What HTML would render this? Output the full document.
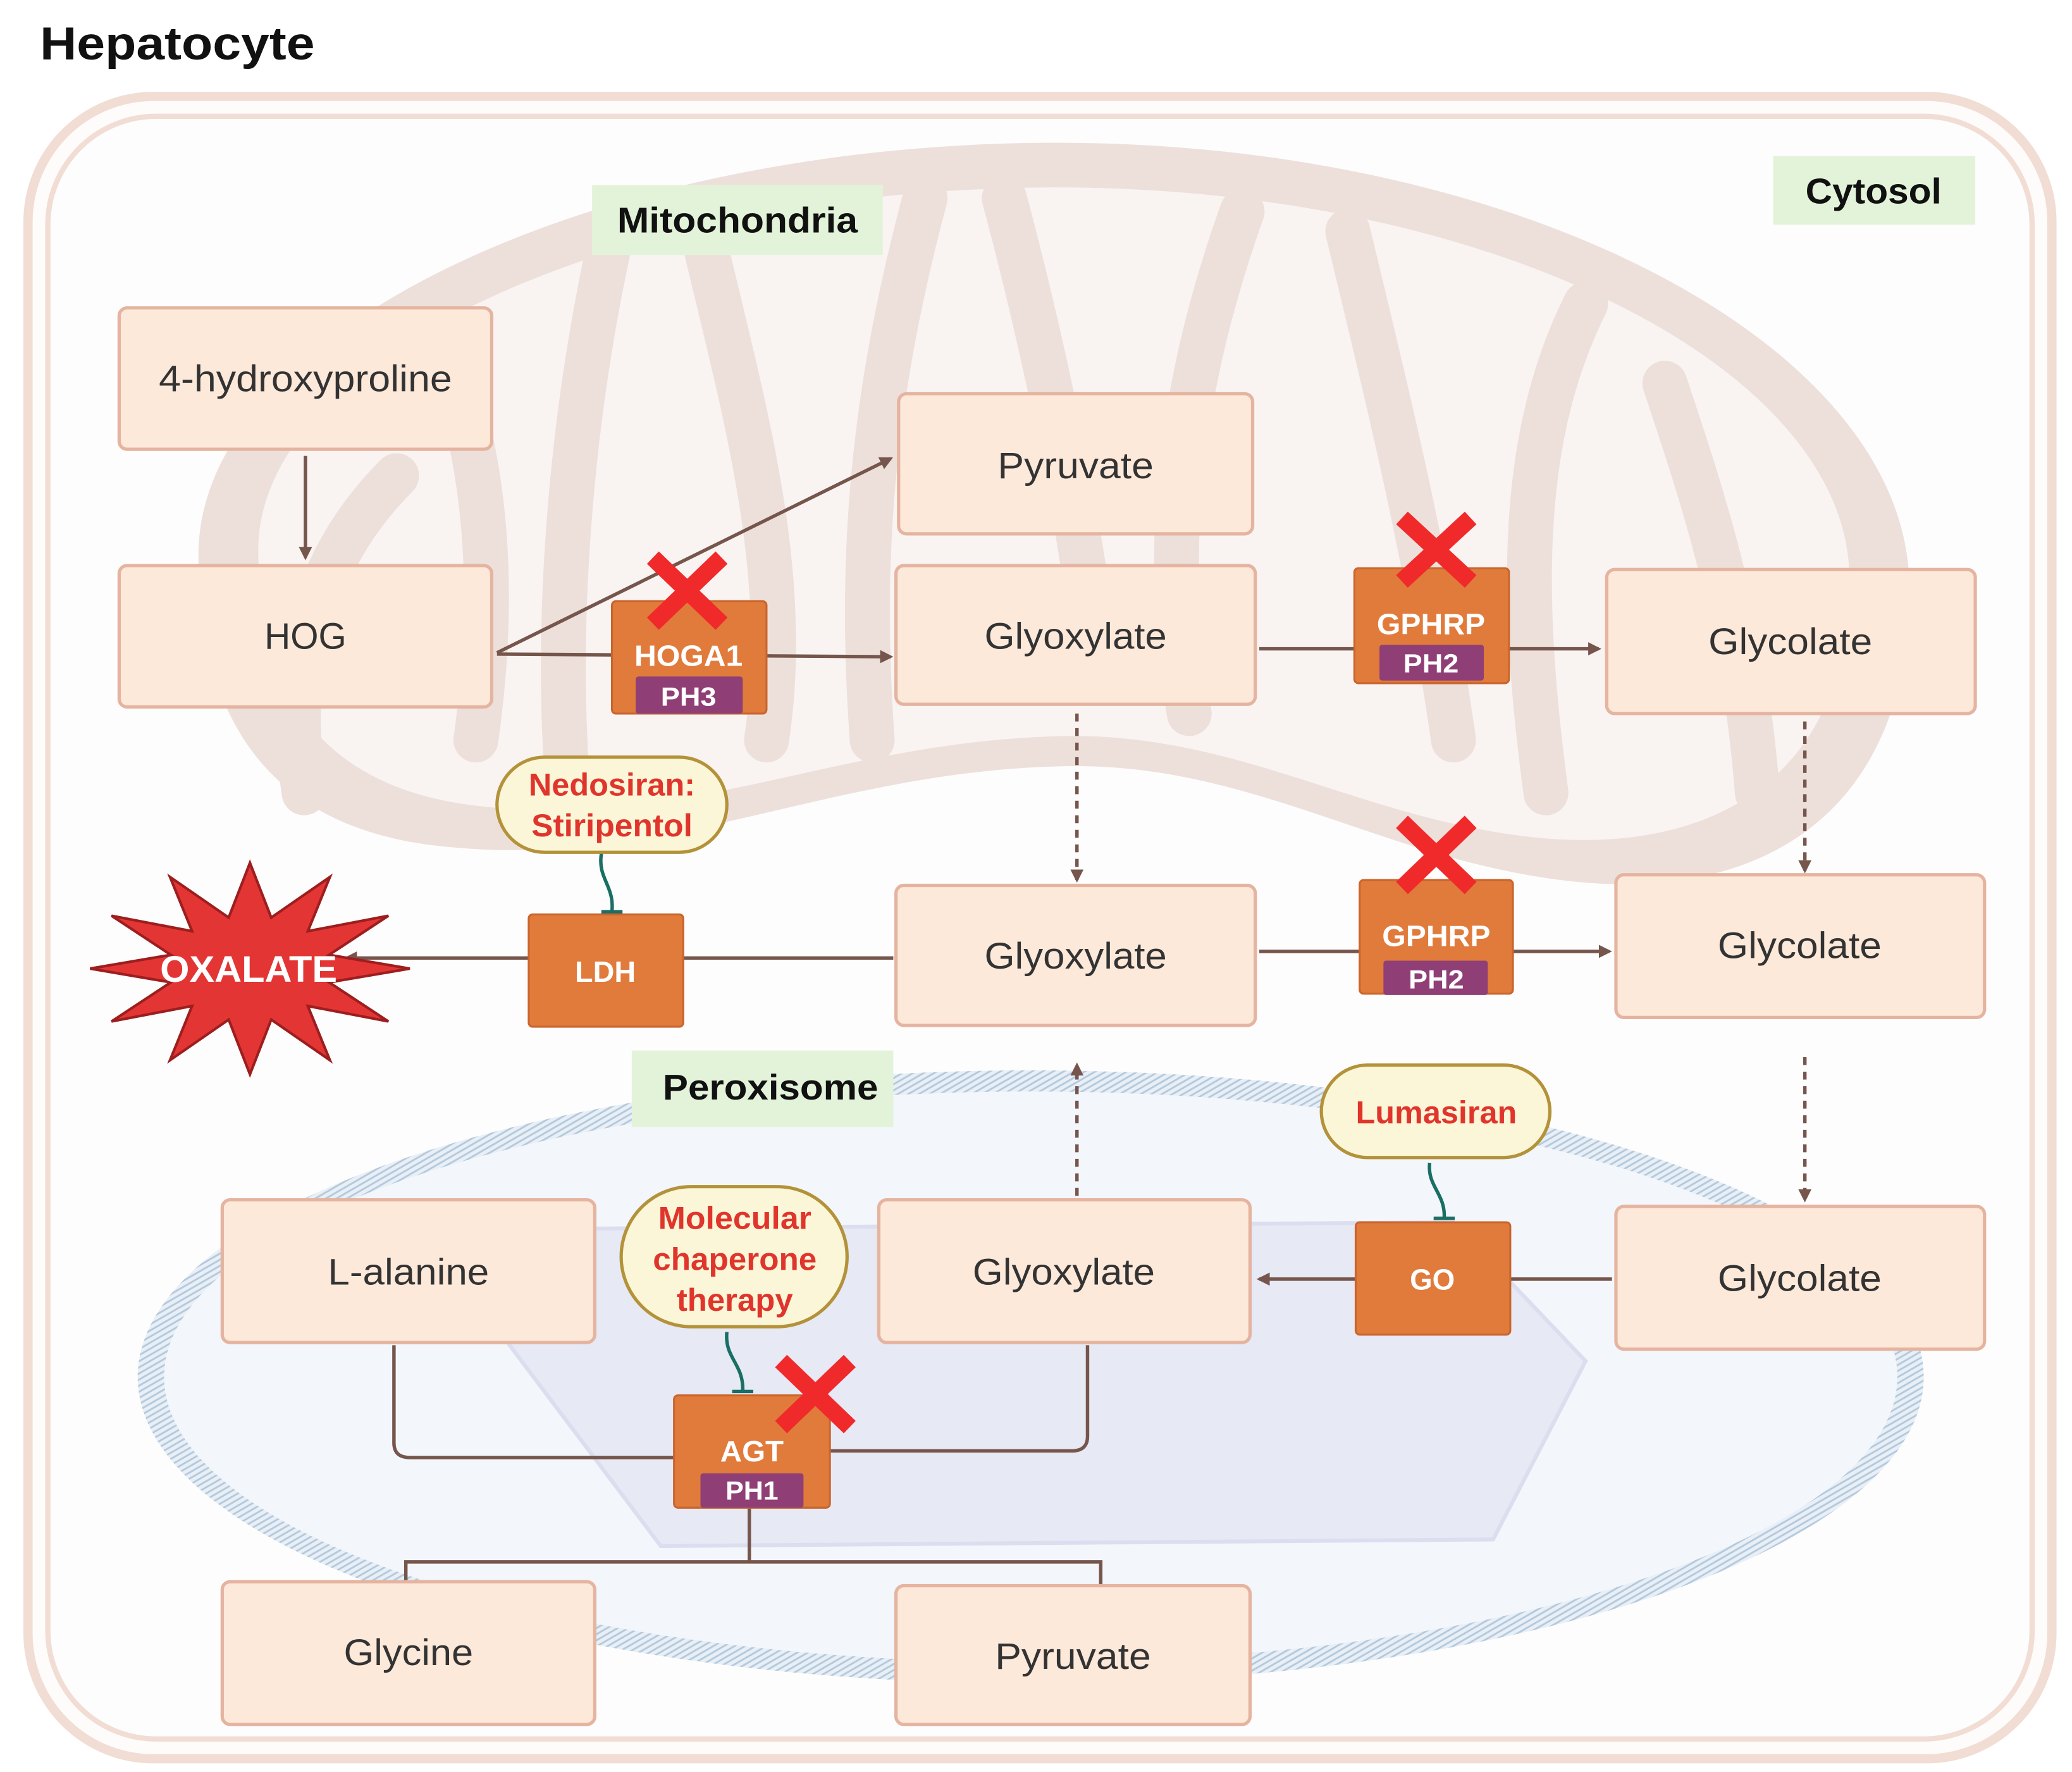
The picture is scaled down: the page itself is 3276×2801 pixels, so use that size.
<!DOCTYPE html>
<html><head><meta charset="utf-8"><style>
html,body{margin:0;padding:0;background:#fff;}
svg{display:block;}
text{font-family:"Liberation Sans",sans-serif;}
</style></head><body>
<svg width="3276" height="2801" viewBox="0 0 1568 1341" xmlns="http://www.w3.org/2000/svg">
<defs>
<marker id="ah" markerWidth="10" markerHeight="10" refX="8" refY="5" orient="auto" markerUnits="userSpaceOnUse">
<path d="M0,0 L10,5 L0,10 Z" fill="#76564c"/></marker>
<pattern id="stripe" width="4" height="4" patternUnits="userSpaceOnUse" patternTransform="rotate(60)">
<rect width="4" height="4" fill="#e8eff6"/><rect width="1.4" height="4" fill="#b5cadc"/></pattern>
</defs>
<rect width="1568" height="1341" fill="#fff"/>
<text x="30" y="45" font-size="35" font-weight="bold" fill="#111" textLength="208" lengthAdjust="spacingAndGlyphs">Hepatocyte</text>
<!-- cell -->
<rect x="21" y="73" width="1532" height="1258" rx="95" fill="#fefcfb" stroke="#f1ddd4" stroke-width="7"/>
<rect x="36" y="88" width="1502" height="1228" rx="82" fill="#fefdfd" stroke="#f1ddd4" stroke-width="4"/>
<!-- mitochondria -->
<path d="M150,420 C150,250 450,108 800,108 C1150,108 1440,260 1445,440 C1448,600 1350,680 1200,668 C1050,655 950,575 800,580 C620,585 500,660 330,640 C200,625 150,540 150,420 Z" fill="#ede0db"/>
<path transform="translate(797,390) scale(0.93,0.88) translate(-797,-390)" d="M150,420 C150,250 450,108 800,108 C1150,108 1440,260 1445,440 C1448,600 1350,680 1200,668 C1050,655 950,575 800,580 C620,585 500,660 330,640 C200,625 150,540 150,420 Z" fill="#f9f4f2"/>
<g stroke="#ede0db" stroke-width="34" stroke-linecap="round" fill="none">
<path d="M230,600 C215,500 240,420 300,360"/>
<path d="M330,250 C360,320 380,420 360,560"/>
<path d="M430,600 C420,480 430,330 460,190"/>
<path d="M530,170 C560,300 600,430 580,560"/>
<path d="M660,560 C650,420 660,300 700,150"/>
<path d="M760,150 C800,300 820,420 830,500"/>
<path d="M900,540 C880,420 890,300 940,160"/>
<path d="M1020,175 C1050,300 1080,420 1100,560"/>
<path d="M1170,600 C1150,450 1150,330 1200,230"/>
<path d="M1260,290 C1290,380 1320,470 1330,600"/>
</g>
<!-- peroxisome -->
<ellipse cx="780" cy="1042" rx="676" ry="232" fill="url(#stripe)"/>
<ellipse cx="780" cy="1042" rx="656" ry="216" fill="#f3f6fb"/>
<path d="M372,1000 L420,930 L1100,925 L1200,1030 L1130,1165 L500,1170 Z" fill="#e7e9f5" stroke="#dcdeef" stroke-width="3"/>
<!-- compartment labels -->
<rect x="448" y="140" width="220" height="53" fill="#e3f3d9"/>
<text x="558" y="176" font-size="27" font-weight="bold" fill="#111" text-anchor="middle" textLength="182" lengthAdjust="spacingAndGlyphs">Mitochondria</text>
<rect x="1342" y="118" width="153" height="52" fill="#e3f3d9"/>
<text x="1418" y="154" font-size="27" font-weight="bold" fill="#111" text-anchor="middle" textLength="103" lengthAdjust="spacingAndGlyphs">Cytosol</text>
<rect x="478" y="795" width="198" height="58" fill="#e3f3d9"/>
<text x="583" y="832" font-size="27" font-weight="bold" fill="#111" text-anchor="middle" textLength="163" lengthAdjust="spacingAndGlyphs">Peroxisome</text>
<!-- connectors -->
<g stroke="#76564c" stroke-width="2.6" fill="none">
<line x1="231" y1="345" x2="231" y2="422" marker-end="url(#ah)"/>
<line x1="376" y1="494" x2="674" y2="347" marker-end="url(#ah)"/>
<line x1="376" y1="495" x2="674" y2="497" marker-end="url(#ah)"/>
<line x1="953" y1="491" x2="1210" y2="491" marker-end="url(#ah)"/>
<line x1="815" y1="540" x2="815" y2="666" stroke-dasharray="6,5" marker-end="url(#ah)"/>
<line x1="1366" y1="546" x2="1366" y2="659" stroke-dasharray="6,5" marker-end="url(#ah)"/>
<line x1="676" y1="725" x2="262" y2="725" marker-end="url(#ah)"/>
<line x1="953" y1="720" x2="1218" y2="720" marker-end="url(#ah)"/>
<line x1="1366" y1="800" x2="1366" y2="908" stroke-dasharray="6,5" marker-end="url(#ah)"/>
<line x1="815" y1="905" x2="815" y2="806" stroke-dasharray="6,5" marker-end="url(#ah)"/>
<line x1="1220" y1="968" x2="953" y2="968" marker-end="url(#ah)"/>
<path d="M298,1018 V1092 Q298,1103 310,1103 H512"/>
<path d="M823,1018 V1087 Q823,1098 811,1098 H626"/>
<path d="M567,1141 V1182 M307,1197 V1182 H833 V1200"/>
</g>
<!-- inhibition lines -->
<g stroke="#1a6e64" stroke-width="2.6" fill="none">
<path d="M455,646 C452,665 465,670 463,690"/><line x1="455" y1="690" x2="471" y2="690"/>
<path d="M1082,880 C1080,898 1094,903 1093,922"/><line x1="1085" y1="922" x2="1101" y2="922"/>
<path d="M550,1008 C548,1028 563,1032 562,1053"/><line x1="554" y1="1053" x2="570" y2="1053"/>
</g>
<!-- boxes -->
<g fill="#fde9da" stroke="#e5b4a0" stroke-width="2.5">
<rect x="90" y="233" width="282" height="107" rx="6"/>
<rect x="90" y="428" width="282" height="107" rx="6"/>
<rect x="680" y="298" width="268" height="106" rx="6"/>
<rect x="678" y="428" width="272" height="105" rx="6"/>
<rect x="1216" y="431" width="279" height="109" rx="6"/>
<rect x="678" y="670" width="272" height="106" rx="6"/>
<rect x="1223" y="662" width="279" height="108" rx="6"/>
<rect x="168" y="908" width="282" height="108" rx="6"/>
<rect x="665" y="908" width="281" height="108" rx="6"/>
<rect x="1223" y="913" width="279" height="108" rx="6"/>
<rect x="168" y="1197" width="282" height="108" rx="6"/>
<rect x="678" y="1200" width="268" height="105" rx="6"/>
</g>
<g font-size="28" fill="#333" text-anchor="middle">
<text x="231" y="296" textLength="222" lengthAdjust="spacingAndGlyphs">4-hydroxyproline</text>
<text x="231" y="491" textLength="62" lengthAdjust="spacingAndGlyphs">HOG</text>
<text x="814" y="362" textLength="118" lengthAdjust="spacingAndGlyphs">Pyruvate</text>
<text x="814" y="491" textLength="138" lengthAdjust="spacingAndGlyphs">Glyoxylate</text>
<text x="1355" y="495" textLength="124" lengthAdjust="spacingAndGlyphs">Glycolate</text>
<text x="814" y="733" textLength="138" lengthAdjust="spacingAndGlyphs">Glyoxylate</text>
<text x="1362" y="725" textLength="124" lengthAdjust="spacingAndGlyphs">Glycolate</text>
<text x="309" y="972" textLength="122" lengthAdjust="spacingAndGlyphs">L-alanine</text>
<text x="805" y="972" textLength="138" lengthAdjust="spacingAndGlyphs">Glyoxylate</text>
<text x="1362" y="977" textLength="124" lengthAdjust="spacingAndGlyphs">Glycolate</text>
<text x="309" y="1260" textLength="98" lengthAdjust="spacingAndGlyphs">Glycine</text>
<text x="812" y="1263" textLength="118" lengthAdjust="spacingAndGlyphs">Pyruvate</text>
</g>
<!-- enzymes -->
<g fill="#e17b3b" stroke="#c9652d" stroke-width="1.5">
<rect x="463" y="455" width="117" height="85" rx="3"/>
<rect x="1025" y="430" width="117" height="87" rx="3"/>
<rect x="1029" y="666" width="116" height="86" rx="3"/>
<rect x="400" y="692" width="117" height="85" rx="3"/>
<rect x="1026" y="925" width="117" height="85" rx="3"/>
<rect x="510" y="1056" width="118" height="85" rx="3"/>
</g>
<g fill="#8f3f76">
<rect x="481" y="512" width="81" height="28" rx="2"/>
<rect x="1044" y="488" width="79" height="27" rx="2"/>
<rect x="1047" y="727" width="79" height="26" rx="2"/>
<rect x="530" y="1115" width="78" height="26" rx="2"/>
</g>
<g fill="#fff" font-weight="bold" text-anchor="middle">
<text x="521" y="504" font-size="22" textLength="82" lengthAdjust="spacingAndGlyphs">HOGA1</text>
<text x="521" y="534" font-size="20" textLength="42" lengthAdjust="spacingAndGlyphs">PH3</text>
<text x="1083" y="480" font-size="22" textLength="82" lengthAdjust="spacingAndGlyphs">GPHRP</text>
<text x="1083" y="509" font-size="20" textLength="42" lengthAdjust="spacingAndGlyphs">PH2</text>
<text x="1087" y="716" font-size="22" textLength="82" lengthAdjust="spacingAndGlyphs">GPHRP</text>
<text x="1087" y="748" font-size="20" textLength="42" lengthAdjust="spacingAndGlyphs">PH2</text>
<text x="458" y="743" font-size="22" textLength="46" lengthAdjust="spacingAndGlyphs">LDH</text>
<text x="1084" y="976" font-size="22" textLength="34" lengthAdjust="spacingAndGlyphs">GO</text>
<text x="569" y="1106" font-size="22" textLength="48" lengthAdjust="spacingAndGlyphs">AGT</text>
<text x="569" y="1135" font-size="20" textLength="40" lengthAdjust="spacingAndGlyphs">PH1</text>
</g>
<!-- red X -->
<g stroke="#f02a2a" stroke-width="13" stroke-linecap="butt">
<path d="M494,422 L546,472 M546,422 L494,472"/>
<path d="M1061,392 L1113,440 M1113,392 L1061,440"/>
<path d="M1061,622 L1113,672 M1113,622 L1061,672"/>
<path d="M591,1030 L643,1080 M643,1030 L591,1080"/>
</g>
<!-- drugs -->
<g fill="#fbf6d8" stroke="#b3923a" stroke-width="2.5">
<rect x="376" y="573" width="174" height="72" rx="36"/>
<rect x="1000" y="806" width="173" height="70" rx="35"/>
<rect x="470" y="898" width="171" height="106" rx="53"/>
</g>
<g fill="#e0352c" font-weight="bold" font-size="24" text-anchor="middle">
<text x="463" y="602" textLength="126" lengthAdjust="spacingAndGlyphs">Nedosiran:</text>
<text x="463" y="633" textLength="122" lengthAdjust="spacingAndGlyphs">Stiripentol</text>
<text x="1087" y="850" textLength="122" lengthAdjust="spacingAndGlyphs">Lumasiran</text>
<text x="556" y="930" textLength="116" lengthAdjust="spacingAndGlyphs">Molecular</text>
<text x="556" y="961" textLength="124" lengthAdjust="spacingAndGlyphs">chaperone</text>
<text x="556" y="992" textLength="88" lengthAdjust="spacingAndGlyphs">therapy</text>
</g>
<!-- oxalate burst -->
<polygon points="310,733 248.9,743.4 293.8,773 232.8,761.3 249.5,802.3 205.1,771.6 189,813 172.9,771.6 128.5,802.3 145.2,761.3 84.2,773 129.1,743.4 68,733 129.1,722.6 84.2,693 145.2,704.7 128.5,663.7 172.9,694.4 189,653 205.1,694.4 249.5,663.7 232.8,704.7 293.8,693 248.9,722.6" fill="#e43535" stroke="#9d1e1e" stroke-width="2"/>
<text x="188" y="743" font-size="28" font-weight="bold" fill="#fff" text-anchor="middle" textLength="134" lengthAdjust="spacingAndGlyphs">OXALATE</text>
</svg>
</body></html>
